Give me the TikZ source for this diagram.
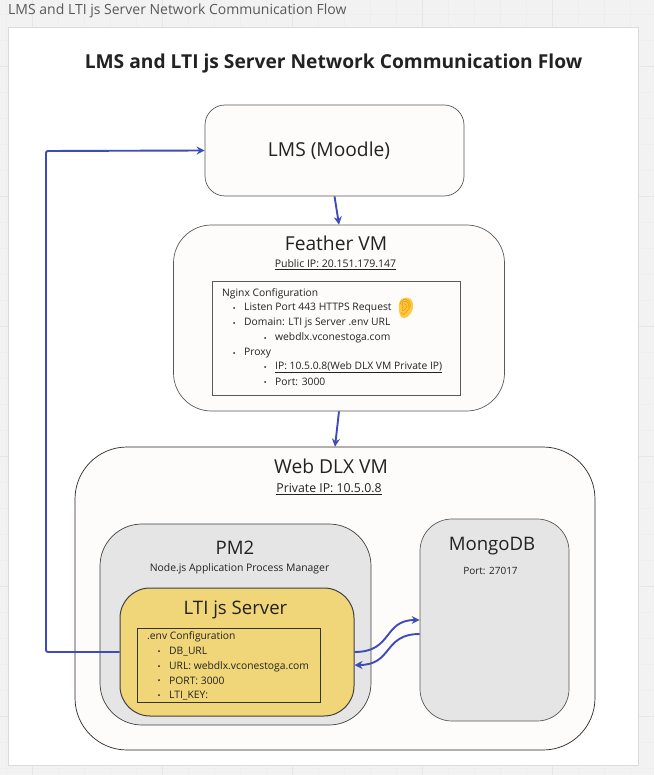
\documentclass[tikz,border=0pt]{standalone}
\usepackage{fontspec}
\setmainfont{Open Sans}
\newfontfamily\emojifont{Noto Emoji}
\usepackage{tikz}
\usetikzlibrary{positioning, arrows.meta, calc}
\definecolor{canvas}{HTML}{F2F2F2}
\definecolor{gridline}{HTML}{E6E6E6}
\definecolor{gridminor}{HTML}{EEEEEE}
\definecolor{boxfill}{HTML}{FDFCFB}
\definecolor{grayfill}{HTML}{E5E5E6}
\definecolor{ltifill}{HTML}{F0D678}
\definecolor{linkblue}{HTML}{3F4BB8}
\definecolor{inktext}{HTML}{222222}
\definecolor{earfill}{HTML}{FFC83D}
\definecolor{earline}{HTML}{E8890C}
\tikzset{
    vmbox/.style={draw=black!65, fill=boxfill, line width=0.7pt, inner sep=0pt},
    graybox/.style={vmbox, fill=grayfill},
    ltibox/.style={vmbox, draw=black!75, fill=ltifill, line width=1pt},
    confbox/.style={draw=black!65, line width=0.9pt, inner sep=0pt},
    heading/.style={text=inktext, font=\fontsize{19.2}{24}\selectfont, inner sep=0pt},
    smallheading/.style={heading, font=\fontsize{18.6}{24}\selectfont},
    subheading/.style={text=inktext, font=\fontsize{10.5}{13}\selectfont, inner sep=0pt},
    listtext/.style={text=inktext, anchor=west, font=\fontsize{10.3}{12}\selectfont, inner sep=0pt},
    link/.style={draw=linkblue, line width=1.9pt, -{Stealth[length=8pt,width=8pt]}, line join=round}
}
\begin{document}
\begin{tikzpicture}[x=1pt, y=-1pt]
    \useasboundingbox (0,0) rectangle (654,775);

    % canvas behind the card
    \fill[canvas] (0,0) rectangle (654,775);
    \foreach \x in {6,32,...,656}
    {
        \draw[gridminor, line width=0.5pt] (\x,0) -- (\x,775);
    }
    \foreach \y in {14,40,...,794}
    {
        \draw[gridminor, line width=0.5pt] (0,\y) -- (654,\y);
    }
    \foreach \x in {32,162,292,422,552}
    {
        \draw[gridline] (\x,0) -- (\x,775);
    }
    \foreach \y in {66,196,326,456,586,716}
    {
        \draw[gridline] (0,\y) -- (654,\y);
    }
    \fill[white] (8,27) rectangle (638,765);
    \draw[black!14] (8,27) rectangle (638,765);

    \node[anchor=west, text=black!65, font=\fontsize{14}{16}\selectfont, inner sep=0pt] (boardname) at (8,11)
        {LMS and LTI js Server Network Communication Flow};
    \node[text=inktext, font=\fontsize{19.2}{23}\bfseries\selectfont, inner sep=0pt] (title) at (333.5,64)
        {LMS and LTI js Server Network Communication Flow};

    % boxes
    \node[vmbox, minimum width=259pt, minimum height=91pt, rounded corners=20pt] (lms) at (334.5,150.5) {};
    \node[vmbox, minimum width=331pt, minimum height=186pt, rounded corners=38pt] (feather) at (339,318) {};
    \node[vmbox, draw=black!85, minimum width=520pt, minimum height=303pt, rounded corners=52pt] (webdlx) at (335,598.5) {};
    \node[graybox, draw=black!75, minimum width=271pt, minimum height=201pt, rounded corners=42pt] (pm2) at (235.5,624.5) {};
    \node[ltibox, minimum width=234pt, minimum height=128pt, rounded corners=30pt] (lti) at (237,652) {};
    \node[graybox, minimum width=149pt, minimum height=202pt, rounded corners=32pt] (mongo) at (494.5,620) {};
    \node[confbox, fill=boxfill, minimum width=248pt, minimum height=114pt] (nginx) at (336,338.5) {};
    \node[confbox, draw=black!80, minimum width=183pt, minimum height=74pt] (env) at (228.5,665) {};

    % box headings
    \node[heading] (lmsname) at (329,151) {LMS (Moodle)};
    \node[heading] (feathername) at (336,243.5) {Feather VM};
    \node[subheading] (featherip) at (335.5,265) {\underline{Public IP: 20.151.179.147}};
    \node[heading] (webdlxname) at (331,466.5) {Web DLX VM};
    \node[subheading, font=\fontsize{12.3}{15}\selectfont] (webdlxip) at (329,489) {\underline{Private IP: 10.5.0.8}};
    \node[smallheading] (pm2name) at (235,547.5) {PM2};
    \node[subheading, font=\fontsize{10.4}{12}\selectfont] (pm2note) at (239.5,568.5) {Node.js Application Process Manager};
    \node[smallheading] (ltiname) at (235.5,609.5) {LTI js Server};
    \node[smallheading] (mongoname) at (492,546) {MongoDB};
    \node[subheading, font=\fontsize{10}{12}\selectfont] (mongonote) at (490.5,570.5) {Port: 27017};

    % nginx list
    \foreach \i/\xa/\ya/\txt in {
        1/222/294/Nginx Configuration,
        2/244/308/Listen Port 443 HTTPS Request,
        3/244/323/{Domain: LTI js Server .env URL},
        4/275/338/webdlx.vconestoga.com,
        5/244/353/Proxy,
        6/275/367/\underline{IP: 10.5.0.8(Web DLX VM Private IP)},
        7/275/382/{Port: 3000}}{

        \node[listtext] (nginxline\i) at (\xa,\ya) {\txt};
    }
    \foreach \xa/\ya in {234/308,234/323,265/338,234/353,265/367,265/382}
    {
        \fill[inktext] (\xa,\ya) circle (1pt);
    }

    % ear
    \fill[earfill] (399,304) .. controls (400,296) and (412,295) .. (413,304)
        .. controls (414,310) and (409,318) .. (404,318)
        .. controls (400,319) and (398,311) .. (399,304) -- cycle;
    \node[text=earline, font=\fontsize{15}{15}\emojifont\selectfont, inner sep=0pt] (ear) at (405.5,307.5) {^^^^^^01f442};

    % env list
    \foreach \i/\xa/\ya/\txt in {
        1/147/636.5/.env Configuration,
        2/169/651.5/DB\_URL,
        3/169/666.5/{URL: webdlx.vconestoga.com},
        4/169/680.5/{PORT: 3000},
        5/169/695.5/LTI\_KEY:}{

        \node[listtext] (envline\i) at (\xa,\ya) {\txt};
    }
    \foreach \ya in {651,666,680,695}
    {
        \fill[inktext] (159,\ya) circle (1pt);
    }

    % connectors
    \coordinate (mongoback) at ($(mongo.west)+(0,14)$);
    \coordinate (ltiback) at ($(lti.east)+(0,13)$);
    \coordinate (cornerlow) at (46,652);
    \coordinate (cornerhigh) at (46,151);
    \draw[link] (lms.south) -- (feather.north);
    \draw[link] (feather.south) -- (webdlx.north);
    \draw[link, rounded corners=2pt] (lti.west) -- (cornerlow) -- (cornerhigh) -- (lms.west);
    \draw[link] (lti.east) .. controls (393,652) and (383,620) .. (mongo.west);
    \draw[link] (mongoback) .. controls (383,634) and (393,665) .. (ltiback);
\end{tikzpicture}
\end{document}
